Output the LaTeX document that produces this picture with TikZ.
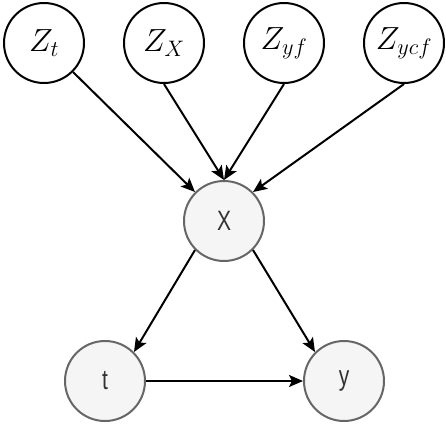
\RequirePackage{fix-cm}
\documentclass[tikz,border=0pt]{standalone}
\usepackage{fontspec}
\newfontfamily\labelfont[FakeStretch=0.75]{Liberation Sans}
\usetikzlibrary{arrows.meta}
\definecolor{obsfill}{HTML}{F5F5F5}
\definecolor{obsline}{HTML}{666666}
\definecolor{obstext}{HTML}{333333}
\begin{document}
\begin{tikzpicture}[x=1pt,y=-1pt,
  latent/.style={circle, draw=black, fill=white, line width=2pt, minimum size=80pt, inner sep=0pt, font=\fontsize{32}{38}\selectfont},
  observed/.style={circle, draw=obsline, fill=obsfill, line width=2pt, minimum size=80pt, inner sep=0pt, text=obstext, font=\labelfont\fontsize{28}{34}\selectfont},
  edge/.style={line width=2pt, -{Stealth[length=14pt,width=12pt,inset=3pt]}}
]
\useasboundingbox (0,0) rectangle (446,442);
\node[latent] (zt) at (44,43) {$Z_t$};
\node[latent] (zx) at (164,43) {$Z_X$};
\node[latent] (zyf) at (284,43) {$Z_{yf}$};
\node[latent] (zycf) at (404,43) {$Z_{ycf}$};
\node[observed] (x) at (224,221) {X};
\node[observed] (t) at (105,381) {t};
\node[observed] (y) at (344,381) {y};
\draw[edge] (zt.south east) -- (x.north west);
\draw[edge] (zx.south) -- (x.north);
\draw[edge] (zyf.south) -- (x.north);
\draw[edge] (zycf.south) -- (x.north east);
\draw[edge] (x.south west) -- (t.north east);
\draw[edge] (x.south east) -- (y.north west);
\draw[edge] (t.east) -- (y.west);
\end{tikzpicture}
\end{document}
